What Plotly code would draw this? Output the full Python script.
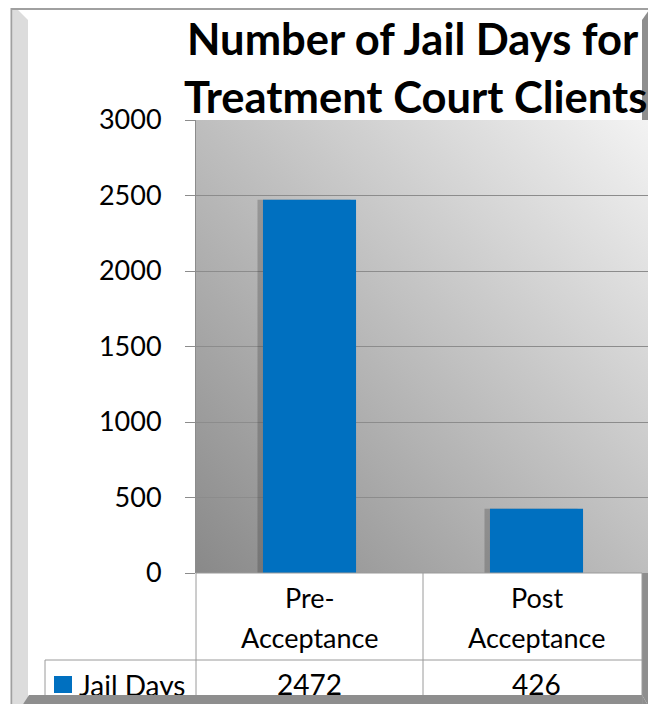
import base64
import plotly.graph_objects as go

# ---- data ----
categories = ["Pre-<br>Acceptance", "Post<br>Acceptance"]
values = [2472, 426]
series_name = "Jail Days"
y_ticks = [0, 500, 1000, 1500, 2000, 2500, 3000]
title_lines = ["Number of Jail Days for", "Treatment Court Clients"]

# page body has an 8px margin: build the figure 8px smaller and shift coordinates
OFF = 8
W, H = 656 - OFF, 704 - OFF


def px(x):
    return (x - OFF) / W


def py(y):
    return 1 - (y - OFF) / H


PLOT_L, PLOT_R, PLOT_T, PLOT_B = 196, 650, 120, 573
FONT = "Lato"
BLUE = "#0070C0"
GRID = "#8c8c8c"
TABLE = "#9a9a9a"

svg = ('<svg xmlns="http://www.w3.org/2000/svg" width="100" height="100" '
       'viewBox="0 0 100 100" preserveAspectRatio="none">'
       '<defs><linearGradient id="g" x1="0" y1="1" x2="1" y2="0">'
       '<stop offset="0" stop-color="#898989"/>'
       '<stop offset="1" stop-color="#f3f3f3"/>'
       '</linearGradient></defs>'
       '<rect width="100" height="100" fill="url(#g)"/></svg>')
grad_src = "data:image/svg+xml;base64," + base64.b64encode(svg.encode()).decode()

fig = go.Figure()
# soft shadow behind bars
fig.add_trace(go.Bar(x=categories, y=values, width=0.41, offset=-0.229,
                     marker=dict(color="rgba(40,40,40,0.25)", line_width=0),
                     hoverinfo="skip", showlegend=False))
fig.add_trace(go.Bar(x=categories, y=values, width=0.41, offset=-0.205,
                     marker=dict(color=BLUE, line_width=0),
                     name=series_name, showlegend=False))


def path(points):
    return "M " + " L ".join(f"{px(x)},{py(y)}" for x, y in points) + " Z"


shapes = [
    # frame: left light bevel
    dict(type="path", xref="paper", yref="paper", layer="below",
         path=path([(13, 5), (28, 20), (28, 712), (13, 712)]),
         fillcolor="#dcdcdc", line=dict(width=0)),
    # right dark strip
    dict(type="path", xref="paper", yref="paper", layer="below",
         path=path([(642, 20), (652, 6), (652, 712), (642, 695)]),
         fillcolor="#8e8e8e", line=dict(width=0)),
    # bottom dark band
    dict(type="path", xref="paper", yref="paper", layer="below",
         path=path([(29, 695), (642, 695), (652, 712), (18, 712)]),
         fillcolor="#8e8e8e", line=dict(width=0)),
    # outer border
    dict(type="rect", xref="paper", yref="paper", layer="below",
         x0=px(11.5), x1=px(652.5), y0=py(9), y1=py(730),
         line=dict(color="#a0a0a0", width=2), fillcolor="rgba(0,0,0,0)"),
    # plot right edge
    dict(type="line", xref="paper", yref="paper", layer="above",
         x0=px(651.5), x1=px(651.5), y0=py(PLOT_T), y1=py(PLOT_B),
         line=dict(color="#9a9a9a", width=1)),
    # data table lines
    dict(type="line", xref="paper", yref="paper", layer="above",
         x0=px(PLOT_L), x1=px(642), y0=py(PLOT_B), y1=py(PLOT_B),
         line=dict(color=TABLE, width=1)),
    dict(type="line", xref="paper", yref="paper", layer="above",
         x0=px(45), x1=px(642), y0=py(660), y1=py(660),
         line=dict(color=TABLE, width=1)),
    dict(type="line", xref="paper", yref="paper", layer="above",
         x0=px(PLOT_L), x1=px(PLOT_L), y0=py(PLOT_B), y1=py(704),
         line=dict(color=TABLE, width=1)),
    dict(type="line", xref="x", yref="paper", layer="above",
         x0=0.5, x1=0.5, y0=py(PLOT_B), y1=py(704),
         line=dict(color=TABLE, width=1)),
    dict(type="line", xref="paper", yref="paper", layer="above",
         x0=px(642), x1=px(642), y0=py(PLOT_B), y1=py(704),
         line=dict(color=TABLE, width=1)),
    dict(type="line", xref="paper", yref="paper", layer="above",
         x0=px(45), x1=px(45), y0=py(660), y1=py(704),
         line=dict(color=TABLE, width=1)),
    # legend key
    dict(type="rect", xref="paper", yref="paper", layer="above",
         x0=px(54), x1=px(72), y0=py(676), y1=py(693),
         fillcolor=BLUE, line=dict(width=0)),
]

annotations = []
# title lines
for j, (line, cx) in enumerate(zip(title_lines, [413, 415.5])):
    annotations.append(dict(x=px(cx), xref="paper", y=py(38 + 58 * j), yref="paper",
                            text=line, showarrow=False, xanchor="center",
                            yanchor="middle",
                            font=dict(family=FONT, size=43.5, color="#000",
                                      weight="bold")))
for cat, val in zip(categories, values):
    for j, line in enumerate(cat.split("<br>")):
        annotations.append(dict(x=cat, xref="x", y=py(597 + 40 * j), yref="paper",
                                text=line, showarrow=False, xanchor="center",
                                yanchor="middle",
                                font=dict(family=FONT, size=27, color="#000")))
    annotations.append(dict(x=cat, xref="x", y=py(684), yref="paper",
                            text=f"{val}", showarrow=False, xanchor="center",
                            yanchor="middle",
                            font=dict(family=FONT, size=28, color="#000")))
annotations.append(dict(x=px(77), xref="paper", y=py(684.5), yref="paper",
                        text=series_name, showarrow=False, xanchor="left",
                        yanchor="middle",
                        font=dict(family=FONT, size=28, color="#000")))
# bottom frame band sits on top of the table text
annotations.append(dict(x=px(30), xref="paper", y=0, yref="paper",
                        text=" ", showarrow=False, xanchor="left", yanchor="bottom",
                        width=612, height=9, bgcolor="#8e8e8e", borderpad=0,
                        borderwidth=0, font=dict(size=1)))

fig.update_layout(
    width=W, height=H,
    margin=dict(l=0, r=0, t=0, b=0, autoexpand=False),
    paper_bgcolor="white",
    plot_bgcolor="rgba(0,0,0,0)",
    barmode="overlay",
    showlegend=False,
    xaxis=dict(domain=[px(PLOT_L), px(PLOT_R)], range=[-0.5, 1.5],
               showticklabels=False, showgrid=False, zeroline=False,
               showline=False, ticks="", automargin=False),
    yaxis=dict(domain=[py(PLOT_B), py(PLOT_T)], range=[0, 3000],
               tickvals=y_ticks, showgrid=True, gridcolor=GRID, gridwidth=1,
               zeroline=False, showline=True, linecolor=GRID, linewidth=1,
               ticks="outside", ticklen=10, tickcolor=GRID,
               ticklabelstandoff=18, automargin=False,
               tickfont=dict(family=FONT, size=27, color="#000")),
    images=[dict(source=grad_src, xref="x domain", yref="y domain",
                 x=0, y=1, sizex=1, sizey=1, xanchor="left", yanchor="top",
                 sizing="stretch", layer="below")],
    shapes=shapes,
    annotations=annotations,
)

fig.write_html("out.html")
